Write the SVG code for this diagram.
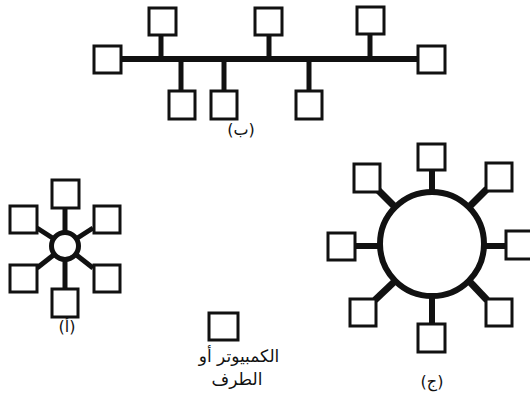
<svg xmlns="http://www.w3.org/2000/svg" width="530" height="395" viewBox="0 0 530 395">
<style>
.box{fill:#fff;stroke:#111;stroke-width:3}
.ln{stroke:#111;stroke-linecap:butt;fill:none}
.lbl{font-family:"DejaVu Sans",sans-serif;font-size:16px;fill:#111;text-anchor:middle}
.big{font-size:17px}
</style>
<rect width="530" height="395" fill="#fff"/>
<g id="connectors">
  <line class="ln" x1="121" y1="59" x2="418" y2="59" stroke-width="6"/>
  <line class="ln" x1="161" y1="35" x2="161" y2="59" stroke-width="5"/>
  <line class="ln" x1="269" y1="35" x2="269" y2="59" stroke-width="5"/>
  <line class="ln" x1="370" y1="35" x2="370" y2="59" stroke-width="5"/>
  <line class="ln" x1="181" y1="59" x2="181" y2="90" stroke-width="5"/>
  <line class="ln" x1="224" y1="59" x2="224" y2="90" stroke-width="5"/>
  <line class="ln" x1="309" y1="59" x2="309" y2="90" stroke-width="5"/>
  <line class="ln" x1="65" y1="246" x2="65" y2="209" stroke-width="5"/>
  <line class="ln" x1="65" y1="246" x2="65" y2="288" stroke-width="5"/>
  <line class="ln" x1="65" y1="246" x2="37" y2="228" stroke-width="5"/>
  <line class="ln" x1="65" y1="246" x2="93" y2="228" stroke-width="5"/>
  <line class="ln" x1="65" y1="246" x2="37" y2="268" stroke-width="5"/>
  <line class="ln" x1="65" y1="246" x2="93" y2="268" stroke-width="5"/>
  <line class="ln" x1="432" y1="190" x2="432" y2="171" stroke-width="6"/>
  <line class="ln" x1="432" y1="297" x2="432" y2="324" stroke-width="6"/>
  <line class="ln" x1="379" y1="246" x2="355" y2="246" stroke-width="6"/>
  <line class="ln" x1="485" y1="246" x2="506" y2="246" stroke-width="6"/>
  <line class="ln" x1="394" y1="206" x2="377" y2="189" stroke-width="7"/>
  <line class="ln" x1="470" y1="206" x2="487" y2="189" stroke-width="7"/>
  <line class="ln" x1="394" y1="282" x2="375" y2="300" stroke-width="7"/>
  <line class="ln" x1="470" y1="282" x2="487" y2="300" stroke-width="7"/>
</g>
<g id="bus-network">
  <rect class="box" x="94" y="46" width="27" height="27"/>
  <rect class="box" x="149" y="8" width="27" height="27"/>
  <rect class="box" x="255" y="8" width="27" height="27"/>
  <rect class="box" x="357" y="7" width="27" height="27"/>
  <rect class="box" x="418" y="46" width="27" height="27"/>
  <rect class="box" x="169" y="91" width="26" height="28"/>
  <rect class="box" x="211" y="91" width="26" height="28"/>
  <rect class="box" x="296" y="91" width="26" height="28"/>
  <text class="lbl" x="241" y="135">(ب)</text>
</g>
<g id="star-network">
  <circle cx="65" cy="246" r="13.5" fill="#fff" stroke="#111" stroke-width="5"/>
  <rect class="box" x="52" y="180" width="27" height="28"/>
  <rect class="box" x="10" y="206" width="27" height="27"/>
  <rect class="box" x="94" y="206" width="26" height="27"/>
  <rect class="box" x="10" y="265" width="27" height="27"/>
  <rect class="box" x="94" y="265" width="26" height="27"/>
  <rect class="box" x="52" y="289" width="26" height="28"/>
  <text class="lbl" x="67" y="332">(أ)</text>
</g>
<g id="ring-network">
  <circle cx="432" cy="244" r="52" fill="#fff" stroke="#111" stroke-width="6"/>
  <rect class="box" x="418" y="144" width="27" height="26"/>
  <rect class="box" x="354" y="164" width="26" height="28"/>
  <rect class="box" x="486" y="163" width="26" height="28"/>
  <rect class="box" x="328" y="233" width="27" height="27"/>
  <rect class="box" x="506" y="231" width="27" height="28"/>
  <rect class="box" x="350" y="299" width="26" height="27"/>
  <rect class="box" x="418" y="324" width="27" height="28"/>
  <rect class="box" x="486" y="299" width="26" height="27"/>
  <text class="lbl" x="432" y="387">(ج)</text>
</g>
<g id="legend">
  <rect class="box" x="209" y="313" width="29" height="27"/>
  <text class="lbl big" x="239" y="362">الكمبيوتر أو</text>
  <text class="lbl big" x="237" y="385">الطرف</text>
</g>
</svg>
